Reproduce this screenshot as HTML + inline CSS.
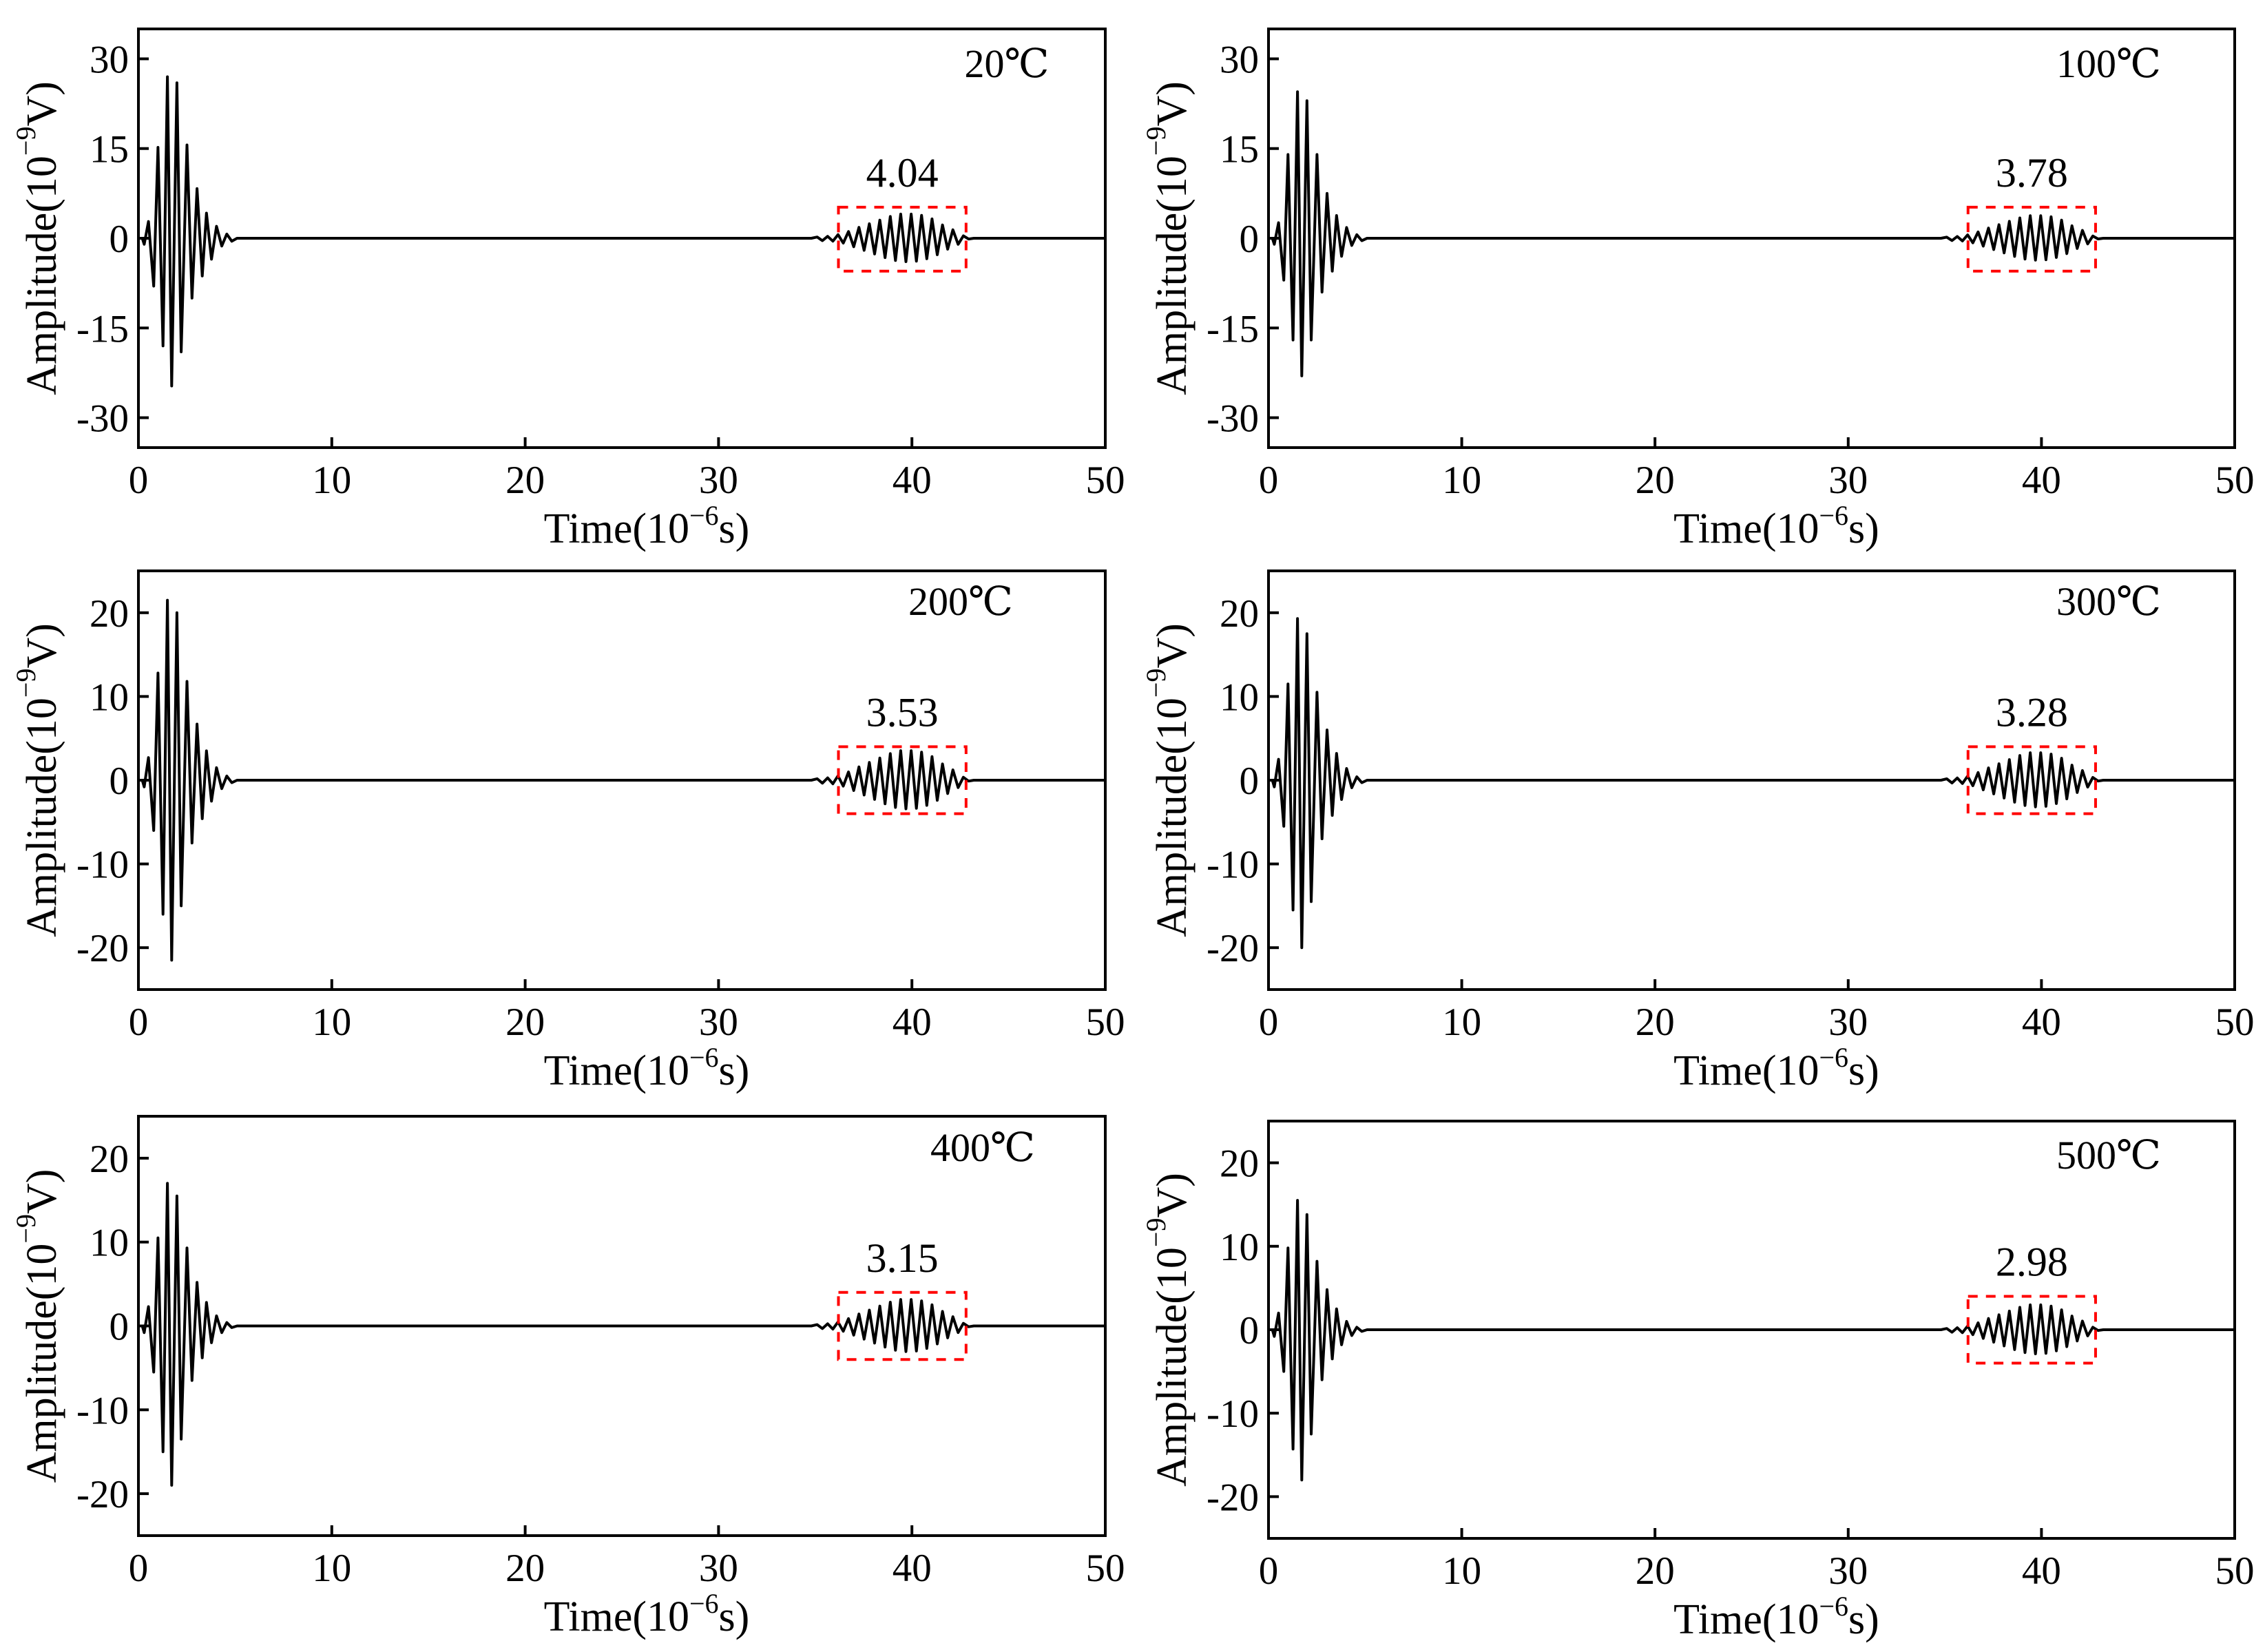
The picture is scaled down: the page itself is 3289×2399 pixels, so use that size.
<!DOCTYPE html>
<html><head><meta charset="utf-8"><style>
html,body{margin:0;padding:0;background:#fff}
svg{display:block}
text{font-family:"Liberation Serif","DejaVu Serif",serif;fill:#000}
</style></head><body>
<svg id="fig" width="3289" height="2399" viewBox="0 0 3289 2399" xmlns="http://www.w3.org/2000/svg"></svg>
<script>
// ---- data ----
const temps = ["20℃","100℃","200℃","300℃","400℃","500℃"];
const peakValues = [4.04,3.78,3.53,3.28,3.15,2.98];
const burst1Times = [0.2,0.3,0.52,0.79,1.01,1.27,1.50,1.72,1.99,2.21,2.51,2.77,3.03,3.30,3.52,3.78,4.04,4.31,4.57,4.83,5.1];
const burst1_20 = [0,-1,2.8,-8,15.2,-18,27,-24.7,26,-19,15.6,-10,8.3,-6.3,4.2,-3.5,2,-1.3,0.7,-0.5,0];
const burst1_100 = [0,-1,2.6,-7,14,-17,24.5,-23,23,-17,14,-9,7.5,-5.5,3.8,-3,1.8,-1.2,0.6,-0.4,0];
const burst1_200 = [0,-0.8,2.7,-6,12.8,-16,21.5,-21.5,20,-15,11.8,-7.5,6.7,-4.6,3.5,-2.5,1.5,-1,0.5,-0.3,0];
const burst1_300 = [0,-0.8,2.5,-5.5,11.5,-15.5,19.3,-20,17.5,-14.5,10.5,-7,6,-4.2,3.2,-2.3,1.4,-0.9,0.4,-0.3,0];
const burst1_400 = [0,-0.8,2.3,-5.5,10.5,-15,17,-19,15.5,-13.5,9.3,-6.5,5.2,-3.8,2.8,-2,1.2,-0.8,0.4,-0.2,0];
const burst1_500 = [0,-0.8,2,-5,9.8,-14.3,15.5,-18,13.8,-12.5,8.2,-6,4.8,-3.5,2.5,-1.8,1,-0.7,0.3,-0.2,0];
const burst2Times = [35.1,35.37,35.64,35.91,36.18,36.45,36.72,36.99,37.26,37.53,37.8,38.07,38.34,38.61,38.88,39.15,39.42,39.69,39.96,40.23,40.5,40.77,41.04,41.31,41.58,41.85,42.12,42.39,42.66,42.93];
const burst2Shape = [0.05,-0.1,0.08,-0.12,0.15,-0.2,0.28,-0.35,0.45,-0.5,0.6,-0.65,0.75,-0.8,0.9,-0.92,1.0,-0.97,1.0,-0.95,0.95,-0.85,0.8,-0.68,0.55,-0.45,0.35,-0.25,0.1,-0.03];
const xTicks = [0,10,20,30,40,50];
const yTicksTop = [30,15,0,-15,-30];
const yTicksLow = [20,10,0,-10,-20];
const boxRange = [36.2,42.8];
// ---- layout ----
const panels = [
 {x0:201,x1:1605,y0:42,y1:650,lim:35,ticks:yTicksTop,b1:burst1_20,box:[5.2,-5.5],tx:1462,ty:112},
 {x0:1842,x1:3245,y0:42,y1:650,lim:35,ticks:yTicksTop,b1:burst1_100,box:[5.2,-5.5],tx:3062,ty:112},
 {x0:201,x1:1605,y0:829,y1:1437,lim:25,ticks:yTicksLow,b1:burst1_200,box:[4,-4],tx:1395,ty:893},
 {x0:1842,x1:3245,y0:829,y1:1437,lim:25,ticks:yTicksLow,b1:burst1_300,box:[4,-4],tx:3062,ty:893},
 {x0:201,x1:1605,y0:1621,y1:2230,lim:25,ticks:yTicksLow,b1:burst1_400,box:[4,-4],tx:1427,ty:1686},
 {x0:1842,x1:3245,y0:1628,y1:2234,lim:25,ticks:yTicksLow,b1:burst1_500,box:[4,-4],tx:3062,ty:1697}
];
const NS="http://www.w3.org/2000/svg";
const svg=document.getElementById('fig');
function mk(tag,attrs,parent){const e=document.createElementNS(NS,tag);for(const k in attrs)e.setAttribute(k,attrs[k]);(parent||svg).appendChild(e);return e;}
panels.forEach((p,i)=>{
 const g=mk('g',{});
 
 
 const X=v=>p.x0+(v-0)/(50-0)*(p.x1-p.x0);
 const Y=v=>p.y1-(v+p.lim)/(2*p.lim)*(p.y1-p.y0);
 const pts=[[0,0]];
 burst1Times.forEach((t,k)=>pts.push([t,p.b1[k]]));
 pts.push([34.8,0]);
 burst2Times.forEach((t,k)=>pts.push([t,burst2Shape[k]*peakValues[i]]));
 pts.push([43.2,0],[50,0]);
 const sig=mk('polyline',{points:pts.map(q=>X(q[0]).toFixed(1)+','+Y(q[1]).toFixed(1)).join(' '),fill:'none',stroke:'#000','stroke-width':4,'stroke-linejoin':'round'},g);
 
 
 const bx=mk('rect',{x:X(boxRange[0]),y:Y(p.box[0]),width:X(boxRange[1])-X(boxRange[0]),height:Y(p.box[1])-Y(p.box[0]),fill:'none',stroke:'#f00','stroke-width':4,'stroke-dasharray':'14,12'},g);
 
 
 const pv=mk('text',{x:(X(boxRange[0])+X(boxRange[1]))/2,y:Y(p.box[0])-30,'font-size':60,'text-anchor':'middle'},g);
 pv.textContent=peakValues[i].toFixed(2);
 
 
 const fr=mk('rect',{x:p.x0,y:p.y0,width:p.x1-p.x0,height:p.y1-p.y0,fill:'none',stroke:'#000','stroke-width':4},g);
 
 
 xTicks.forEach(v=>{
  const l=mk('line',{x1:X(v),x2:X(v),y1:p.y1,y2:p.y1-15,stroke:'#000','stroke-width':4},g);
  
  
  const t=mk('text',{x:X(v),y:p.y1+66,'font-size':57,'text-anchor':'middle'},g);
  t.textContent=v;
  
  
 });
 p.ticks.forEach(v=>{
  const l=mk('line',{x1:p.x0,x2:p.x0+15,y1:Y(v),y2:Y(v),stroke:'#000','stroke-width':4},g);
  
  
  const t=mk('text',{x:p.x0-14,y:Y(v)+20,'font-size':57,'text-anchor':'end'},g);
  t.textContent=v;
  
  
 });
 const xt=mk('text',{x:(p.x0+p.x1)/2+36,y:p.y1+138,'font-size':62,'text-anchor':'middle'},g);
 xt.innerHTML='Time(10<tspan font-size="40" dy="-26">−6</tspan><tspan dy="26">s)</tspan>';
 
 
 const cy=(p.y0+p.y1)/2;
 const yt=mk('text',{x:p.x0-140,y:cy,'font-size':62,'text-anchor':'middle',transform:'rotate(-90 '+(p.x0-140)+' '+cy+')','dominant-baseline':'central'},g);
 yt.innerHTML='Amplitude(10<tspan font-size="40" dy="-24">−9</tspan><tspan dy="24">V)</tspan>';
 
 
 const tl=mk('text',{x:p.tx,y:p.ty,'font-size':58,'text-anchor':'middle'},g);
 tl.textContent=temps[i];
 
 
});
</script>
</body></html>
